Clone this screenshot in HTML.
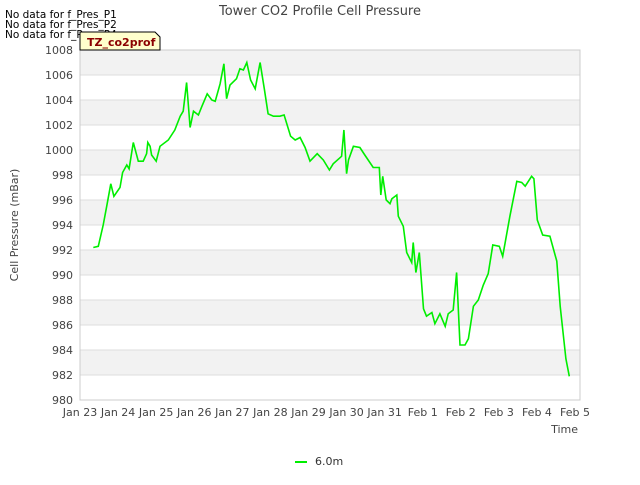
<!DOCTYPE html>
<html><head><meta charset="utf-8"><style>
body{margin:0;background:#fff;font-family:"Liberation Sans","DejaVu Sans",sans-serif}
svg text{font-family:"DejaVu Sans","Liberation Sans",sans-serif}
</style></head><body>
<svg id="chart" width="640" height="480" xmlns="http://www.w3.org/2000/svg">
<rect width="640" height="480" fill="#fff"/>
<text x="320" y="15" text-anchor="middle" font-size="13" fill="#444">Tower CO2 Profile Cell Pressure</text>
<g font-size="10.5" fill="#000">
<text x="5" y="18">No data for f_Pres_P1</text>
<text x="5" y="28">No data for f_Pres_P2</text>
<text x="5" y="38">No data for f_Pres_P4</text>
</g>
<g id="bands"></g><g id="grid"></g>
<rect x="80" y="50" width="500" height="350" fill="none" stroke="#ccc"/>
<g id="yticks" font-size="11" fill="#444"></g>
<g id="xticks" font-size="11" fill="#444"></g>
<text transform="translate(18,225) rotate(-90)" text-anchor="middle" font-size="11" fill="#444">Cell Pressure (mBar)</text>
<text x="578" y="433" text-anchor="end" font-size="11" fill="#444">Time</text>
<path id="series" fill="none" stroke="#00ee00" stroke-width="1.6"/>
<g>
<path d="M80,32 L155,32 L160,37 L160,50 L80,50 Z" fill="#ffffcc" stroke="#000" stroke-width="1"/>
<text x="87" y="46" font-size="11" font-weight="bold" fill="#8b0000">TZ_co2prof</text>
</g>
<g>
<line x1="295" y1="462" x2="307" y2="462" stroke="#00ee00" stroke-width="2"/>
<text x="315" y="465" font-size="11" fill="#333">6.0m</text>
</g>
</svg>
<script>
const yTicks=[980,982,984,986,988,990,992,994,996,998,1000,1002,1004,1006,1008];
const xTickLabels=["Jan 23","Jan 24","Jan 25","Jan 26","Jan 27","Jan 28","Jan 29","Jan 30","Jan 31","Feb 1","Feb 2","Feb 3","Feb 4","Feb 5"];
const days=[0.35,0.48,0.61,0.70,0.81,0.89,1.05,1.12,1.23,1.29,1.40,1.53,1.66,1.75,1.78,1.84,1.88,2.00,2.10,2.32,2.49,2.63,2.71,2.80,2.89,2.98,3.11,3.20,3.34,3.46,3.55,3.68,3.78,3.85,3.94,4.11,4.20,4.29,4.38,4.48,4.60,4.73,4.84,4.94,5.08,5.25,5.36,5.53,5.65,5.78,5.91,6.04,6.23,6.39,6.55,6.65,6.87,6.93,7.00,7.05,7.18,7.35,7.48,7.70,7.86,7.90,7.95,8.04,8.14,8.19,8.32,8.36,8.49,8.58,8.71,8.75,8.82,8.91,9.02,9.10,9.24,9.32,9.45,9.59,9.67,9.80,9.89,9.98,10.11,10.20,10.33,10.46,10.59,10.72,10.84,11.01,11.10,11.29,11.47,11.60,11.69,11.86,11.92,12.01,12.15,12.34,12.52,12.61,12.76,12.85];
const pressure=[992.2,992.3,994.0,995.5,997.3,996.3,997.0,998.2,998.8,998.5,1000.6,999.1,999.1,999.7,1000.6,1000.3,999.6,999.1,1000.3,1000.8,1001.6,1002.7,1003.1,1005.4,1001.8,1003.1,1002.8,1003.5,1004.5,1004.0,1003.9,1005.3,1006.9,1004.1,1005.2,1005.7,1006.5,1006.4,1007.0,1005.6,1004.9,1007.0,1004.9,1002.9,1002.7,1002.7,1002.8,1001.1,1000.8,1001.0,1000.2,999.1,999.7,999.2,998.4,998.9,999.5,1001.6,998.1,999.2,1000.3,1000.2,999.6,998.6,998.6,996.4,997.9,996.0,995.7,996.1,996.4,994.7,993.9,991.8,991.0,992.6,990.2,991.8,987.3,986.7,987.0,986.1,986.9,985.9,986.9,987.2,990.2,984.4,984.4,984.9,987.5,988.0,989.2,990.1,992.4,992.3,991.5,994.7,997.5,997.4,997.1,997.9,997.7,994.4,993.2,993.1,991.1,987.5,983.3,981.9];
const NS="http://www.w3.org/2000/svg";
const X=d=>80+d*38.08, Y=v=>400-(v-980)*12.5;
const bands=document.getElementById('bands'),grid=document.getElementById('grid'),yt=document.getElementById('yticks'),xt=document.getElementById('xticks');
for(let i=0;i<yTicks.length-1;i++){
  if(i%2===1){const r=document.createElementNS(NS,'rect');
  
  
  r.setAttribute('x',80);r.setAttribute('width',500);r.setAttribute('y',Y(yTicks[i+1]));r.setAttribute('height',Y(yTicks[i])-Y(yTicks[i+1]));r.setAttribute('fill','#f2f2f2');bands.appendChild(r);}
}
yTicks.forEach(v=>{
  const l=document.createElementNS(NS,'line');
  
  
  l.setAttribute('x1',80);l.setAttribute('x2',580);l.setAttribute('y1',Y(v));l.setAttribute('y2',Y(v));l.setAttribute('stroke','#ddd');grid.appendChild(l);
  const t=document.createElementNS(NS,'text');
  
  
  t.setAttribute('x',73);t.setAttribute('y',Y(v)+4);t.setAttribute('text-anchor','end');t.textContent=v;yt.appendChild(t);
});
xTickLabels.forEach((s,i)=>{
  const t=document.createElementNS(NS,'text');
  
  
  t.setAttribute('x',X(i));t.setAttribute('y',416);t.setAttribute('text-anchor','middle');t.textContent=s;xt.appendChild(t);
});
document.getElementById('series').setAttribute('d',days.map((d,i)=>(i?'L':'M')+X(d).toFixed(1)+','+Y(pressure[i]).toFixed(1)).join(' '));
</script>
</body></html>
